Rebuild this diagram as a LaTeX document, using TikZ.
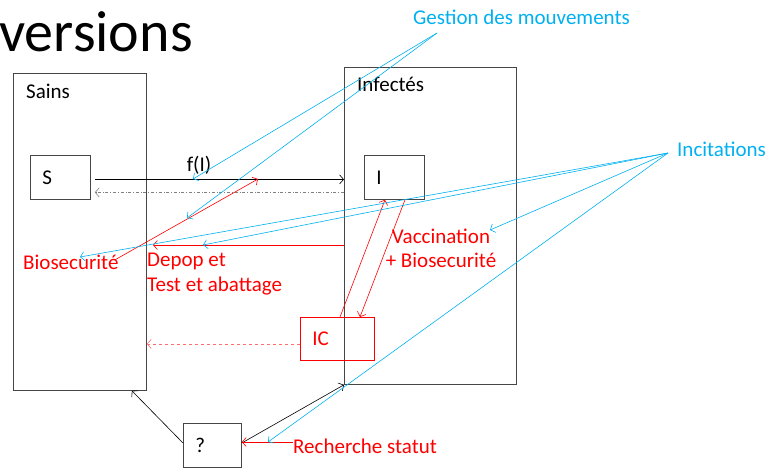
\documentclass[tikz,border=0pt]{standalone}
\usepackage{fontspec}
\setmainfont{Carlito}
\usetikzlibrary{arrows.meta, positioning}
\definecolor{color_bleu}{RGB}{0,176,240}
\definecolor{color_rouge}{RGB}{255,0,0}
\definecolor{color_cadre}{RGB}{70,70,70}
\definecolor{color_gris}{RGB}{128,128,128}
\definecolor{color_pale}{RGB}{255,110,110}

\begin{document}
\begin{tikzpicture}[x=1pt, y=-1pt,
lab/.style={inner sep=0pt, anchor=west, font=\fontsize{21}{25}\selectfont},
zone/.style={draw=color_cadre, line width=0.8pt, inner sep=0pt, anchor=north west},
etat/.style={draw=color_cadre, line width=0.8pt, anchor=north west, inner xsep=12pt,
  inner ysep=0pt, align=left, font=\fontsize{21}{25}\selectfont},
fleche/.style={-{Straight Barb[length=4pt,width=9pt]}, line width=0.6pt},
action/.style={fleche, color_rouge},
levier/.style={fleche, color_bleu}]
\useasboundingbox (0,0) rectangle (769,467);
\node[anchor=base west, inner sep=0pt, font=\fontsize{58}{60}\selectfont] (titre) at (-1,51) {versions};
% SAINS
\node[zone, minimum width=133pt, minimum height=317pt] (sains) at (13,73) {};
\node[lab] (l_sains) at (26,91) {Sains};
\node[etat, text width=36pt, minimum height=44pt] (s) at (30,155) {S};
% INFECTES
\node[zone, minimum width=172pt, minimum height=317pt] (infectes) at (344,67) {};
\node[lab] (l_infectes) at (357,84) {Infectés};
\node[etat, text width=36pt, minimum height=44pt] (i) at (364,155) {I};
\node[etat, draw=color_rouge, text=color_rouge, text width=50pt, minimum height=43pt] (ic) at (300,317) {IC};
\node[etat, text width=34pt, minimum height=44pt] (q) at (183,423) {?};
% TRANSITIONS
\draw[fleche, black] ([xshift=4pt,yshift=-2pt]s.east) -- ([yshift=-2pt]s.east -| infectes.west);
\node[lab, anchor=center] (fi) at (199,165) {f(I)};
\draw[fleche, color_gris, dash dot] ([yshift=-15pt]s.east -| infectes.west) -- ([xshift=4pt,yshift=-15pt]s.east);
\draw[fleche, color_pale, dashed] ([yshift=-5pt]ic.west) -- ([yshift=-5pt]ic.west -| sains.east);
\draw[fleche, black] ([yshift=-20pt]q.north west) -- ([xshift=52pt]sains.south);
\draw[fleche, black] ([yshift=-20pt]q.north east) -- (infectes.south west);
% ACTIONS
\node[lab, text=color_rouge] (bio) at (23,262) {Biosecurité};
\node[lab, text=color_rouge, align=left, font=\fontsize{21}{25}\selectfont] (depop) at (147,274) {Depop et\\Test et abattage};
\node[lab, anchor=center, text=color_rouge, align=center, font=\fontsize{21}{24}\selectfont] (vacc) at (441,248) {Vaccination\\+ Biosecurité};
\node[lab, text=color_rouge] (rech) at (293,446) {Recherche statut};
\coordinate (c_depop) at (153,245);
\coordinate (c_bio) at (258,179);
\draw[action] (c_depop -| infectes.west) -- (c_depop);
\draw[action] ([xshift=-4pt,yshift=2pt]bio.east) -- (c_bio);
\draw[action] ([xshift=40pt]ic.north west) -- ([xshift=21pt]i.south west);
\draw[action] ([xshift=41pt]i.south west) -- ([xshift=60pt]ic.north west);
\draw[action] ([yshift=4pt]rech.west) -- ([yshift=4pt]rech.west -| q.east);
% LEVIERS
\node[lab, text=color_bleu] (gestion) at (413,17) {Gestion des mouvements};
\node[lab, text=color_bleu] (incit) at (677,149) {Incitations};
\coordinate (p_gestion) at (437,33);
\coordinate (p_incit) at (668,153);
\draw[levier] (p_gestion) -- (193,179);
\draw[levier] (p_gestion) -- (187,218);
\draw[levier] (p_incit) -- (80,257);
\draw[levier] (p_incit) -- (203,245);
\draw[levier] (p_incit) -- (490,230);
\draw[levier] (p_incit) -- (268,442);
\end{tikzpicture}
\end{document}
